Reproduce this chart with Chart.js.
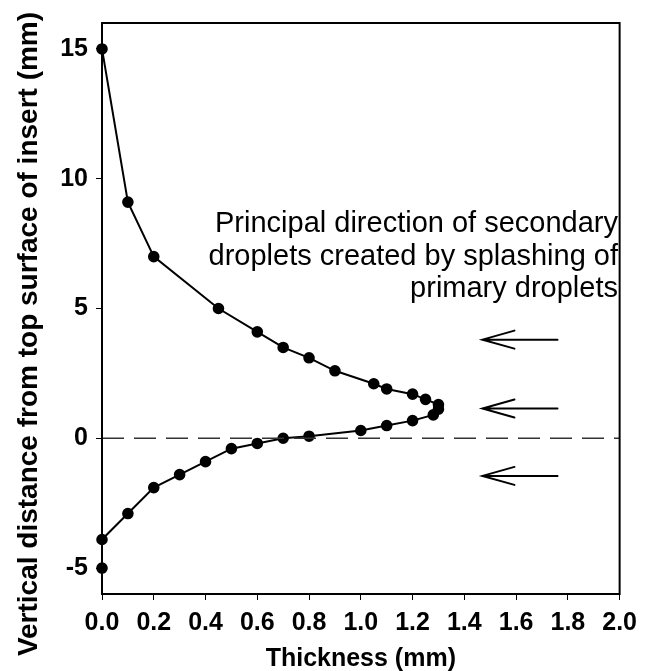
<!DOCTYPE html>
<html>
<head>
<meta charset="utf-8">
<script src="https://cdn.jsdelivr.net/npm/chart.js@4.4.1/dist/chart.umd.min.js"></script>
<style>
html,body{margin:0;padding:0;background:#fff;}
#wrap{width:645px;height:671px;position:relative;}
</style>
</head>
<body>
<div id="wrap"><canvas id="c" width="645" height="671"></canvas></div>
<script>
// Thickness profile (x = thickness in mm, y = vertical distance in mm)
const thickness = [0.0, 0.1, 0.2, 0.45, 0.6, 0.7, 0.8, 0.9, 1.05, 1.1, 1.2, 1.25, 1.3, 1.3, 1.28, 1.2, 1.1, 1.0, 0.8, 0.7, 0.6, 0.5, 0.4, 0.3, 0.2, 0.1, 0.0, 0.0];
const distance  = [15.0, 9.1, 7.0, 5.0, 4.1, 3.5, 3.1, 2.6, 2.1, 1.9, 1.7, 1.5, 1.3, 1.12, 0.9, 0.68, 0.49, 0.3, 0.08, 0.0, -0.2, -0.4, -0.9, -1.4, -1.9, -2.9, -3.9, -5.0];

const xTicks = [0.0, 0.2, 0.4, 0.6, 0.8, 1.0, 1.2, 1.4, 1.6, 1.8, 2.0];
const yTicks = [-5, 0, 5, 10, 15];

// Reference line at zero
const zeroLineX = [0.0, 2.0];
const zeroLineY = [0, 0];

// Arrows: principal direction of secondary droplets
const arrowY = [3.8, 1.15, -1.45];
const arrowTipX = 1.47;
const arrowTailX = 1.76;

const noteLines = ["Principal direction of secondary", "droplets created by splashing of", "primary droplets"];
const yTitle = "Vertical distance from top surface of insert (mm)";

const profile = thickness.map((x, i) => ({x: x, y: distance[i]}));
const zeroLine = zeroLineX.map((x, i) => ({x: x, y: zeroLineY[i]}));
const FONT = '"Liberation Sans", Arial, sans-serif';

const overlay = {
  id: 'overlay',
  afterDatasetsDraw(chart) {
    const ctx = chart.ctx;
    const xs = chart.scales.x, ys = chart.scales.y;
    const a = chart.chartArea;
    ctx.save();
    // frame
    ctx.strokeStyle = '#000';
    ctx.lineWidth = 2;
    ctx.strokeRect(a.left, a.top, a.right - a.left, a.bottom - a.top);
    // arrows
    ctx.lineWidth = 2;
    ctx.lineCap = 'round';
    arrowY.forEach(v => {
      const y = ys.getPixelForValue(v);
      const x0 = xs.getPixelForValue(arrowTipX);
      const x1 = xs.getPixelForValue(arrowTailX);
      ctx.beginPath();
      ctx.moveTo(x1, y); ctx.lineTo(x0, y);
      ctx.moveTo(x0 + 32, y - 9); ctx.lineTo(x0, y); ctx.lineTo(x0 + 32, y + 9);
      ctx.stroke();
    });
    // note text
    ctx.fillStyle = '#000';
    ctx.font = '29px ' + FONT;
    ctx.textAlign = 'right';
    ctx.textBaseline = 'alphabetic';
    const rx = 618;
    noteLines.forEach((t, i) => ctx.fillText(t, rx, 232 + i * 32.5));
    // y-axis title
    ctx.translate(29, 334);
    ctx.rotate(-Math.PI / 2);
    ctx.font = 'bold 28px ' + FONT;
    ctx.textAlign = 'center';
    ctx.textBaseline = 'middle';
    ctx.fillText(yTitle, 0, 0);
    ctx.restore();
  }
};

new Chart(document.getElementById('c'), {
  type: 'scatter',
  data: {
    datasets: [
      {
        data: zeroLine,
        showLine: true,
        borderColor: '#333',
        borderWidth: 1.3,
        borderDash: [22, 10],
        pointRadius: 0,
        fill: false
      },
      {
        data: profile,
        showLine: true,
        borderColor: '#000',
        backgroundColor: '#000',
        borderWidth: 2,
        pointRadius: 4.8,
        pointHoverRadius: 4.8,
        pointBackgroundColor: '#000',
        pointBorderColor: '#000',
        clip: false,
        tension: 0
      }
    ]
  },
  options: {
    responsive: false,
    animation: false,
    events: [],
    layout: {padding: {top: 15.5, right: 17, bottom: 0, left: 0}},
    plugins: {legend: {display: false}, tooltip: {enabled: false}},
    scales: {
      x: {
        type: 'linear',
        min: 0, max: 2.0,
        afterBuildTicks: s => { s.ticks = xTicks.map(v => ({value: v})); },
        afterFit: s => { s.height = 77; },
        grid: {drawOnChartArea: false, drawTicks: true, tickLength: 6, color: '#000', lineWidth: 1},
        border: {display: true, color: '#000', width: 2},
        ticks: {
          color: '#000', padding: 8,
          font: {family: FONT, size: 25, weight: 'bold'},
          callback: v => Number(v).toFixed(1),
          maxRotation: 0, autoSkip: false
        },
        title: {
          display: true, text: 'Thickness (mm)', color: '#000',
          font: {family: FONT, size: 25, weight: 'bold'},
          padding: {top: 0, bottom: -3}
        }
      },
      y: {
        type: 'linear',
        min: -6, max: 16,
        afterBuildTicks: s => { s.ticks = yTicks.map(v => ({value: v})); },
        afterFit: s => { s.width = 102; },
        grid: {drawOnChartArea: false, drawTicks: true, tickLength: 6, color: '#000', lineWidth: 1},
        border: {display: true, color: '#000', width: 2},
        ticks: {
          color: '#000', padding: 8,
          font: {family: FONT, size: 25, weight: 'bold'}
        },
        title: {display: false}
      }
    }
  },
  plugins: [overlay]
});
</script>
</body>
</html>
